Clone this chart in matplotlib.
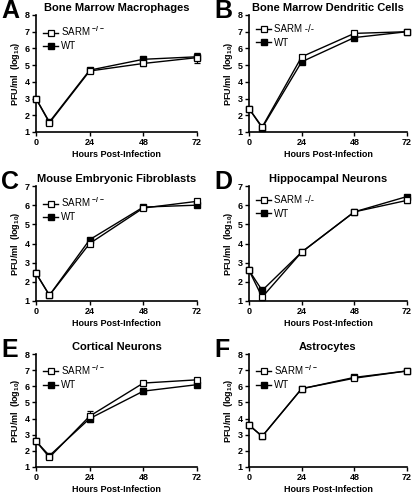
import matplotlib
matplotlib.use("Agg")
import matplotlib.pyplot as plt
from matplotlib.lines import Line2D

plt.rcParams['font.family'] = ['Liberation Sans', 'DejaVu Sans']
plt.rcParams['mathtext.fontset'] = 'custom'
plt.rcParams['mathtext.rm'] = 'Liberation Sans:bold'
plt.rcParams['mathtext.bf'] = 'Liberation Sans:bold'
plt.rcParams['mathtext.default'] = 'rm'

# ========== data ==========
hours = [0, 6, 24, 48, 72]

titles = ["Bone Marrow Macrophages", "Bone Marrow Dendritic Cells",
          "Mouse Embryonic Fibroblasts", "Hippocampal Neurons",
          "Cortical Neurons", "Astrocytes"]
letters = ["A", "B", "C", "D", "E", "F"]
sarm_labels = ["SARM $^{-/-}$", "SARM -/-", "SARM $^{-/-}$", "SARM -/-",
               "SARM $^{-/-}$", "SARM $^{-/-}$"]
ymax = [8, 8, 7, 7, 8, 8]

sarm_a = [3.0, 1.55, 4.65, 5.1, 5.45]
wt_a = [3.0, 1.6, 4.7, 5.35, 5.5]
sarm_a_err = [0, 0, 0.1, 0.15, 0.3]
wt_a_err = [0, 0, 0.1, 0.1, 0.2]

sarm_b = [2.4, 1.3, 5.5, 6.9, 7.0]
wt_b = [2.4, 1.25, 5.2, 6.65, 7.0]
sarm_b_err = [0, 0, 0.05, 0.05, 0.05]
wt_b_err = [0, 0, 0.1, 0.15, 0.05]

sarm_c = [2.45, 1.3, 4.0, 5.85, 6.2]
wt_c = [2.45, 1.3, 4.2, 5.9, 6.0]
sarm_c_err = [0, 0, 0.05, 0.05, 0.05]
wt_c_err = [0, 0, 0.05, 0.05, 0.05]

sarm_d = [2.6, 1.2, 3.55, 5.65, 6.25]
wt_d = [2.6, 1.55, 3.55, 5.65, 6.45]
sarm_d_err = [0, 0.1, 0.05, 0.05, 0.15]
wt_d_err = [0, 0.05, 0.05, 0.05, 0.1]

sarm_e = [2.6, 1.6, 4.15, 6.2, 6.4]
wt_e = [2.6, 1.7, 4.0, 5.7, 6.1]
sarm_e_err = [0, 0.1, 0.3, 0.1, 0.05]
wt_e_err = [0, 0.05, 0.2, 0.2, 0.05]

sarm_f = [3.6, 2.9, 5.85, 6.5, 6.95]
wt_f = [3.6, 2.9, 5.85, 6.55, 6.95]
sarm_f_err = [0, 0, 0.05, 0.05, 0.05]
wt_f_err = [0, 0, 0.05, 0.05, 0.05]

sarm_all = [sarm_a, sarm_b, sarm_c, sarm_d, sarm_e, sarm_f]
wt_all = [wt_a, wt_b, wt_c, wt_d, wt_e, wt_f]
sarm_err_all = [sarm_a_err, sarm_b_err, sarm_c_err, sarm_d_err, sarm_e_err, sarm_f_err]
wt_err_all = [wt_a_err, wt_b_err, wt_c_err, wt_d_err, wt_e_err, wt_f_err]

# ========== layout ==========
fig = plt.figure(figsize=(4.16, 4.95), dpi=100)
W, H = 416, 495
cols = [(36, 161), (249, 158)]
rows = [(15, 132), (186, 301), (354, 467)]

for i in range(6):
    r, c = divmod(i, 2)
    x0, w = cols[c]
    top, bot = rows[r]
    ax = fig.add_axes([x0 / W, 1 - bot / H, w / W, (bot - top) / H])

    ax.errorbar(hours, wt_all[i], yerr=wt_err_all[i], color='black', lw=1.0,
                marker='s', ms=4, mfc='black', mec='black', capsize=2,
                elinewidth=0.8, capthick=0.8, clip_on=False, zorder=3)
    ax.errorbar(hours, sarm_all[i], yerr=sarm_err_all[i], color='black', lw=1.0,
                marker='s', ms=4.5, mfc='white', mec='black', mew=0.9, capsize=2,
                elinewidth=0.8, capthick=0.8, clip_on=False, zorder=4)

    ax.set_xlim(0, 72)
    ax.set_ylim(1, ymax[i])
    ax.set_xticks([0, 24, 48, 72])
    ax.set_yticks(range(1, ymax[i] + 1))
    for s in ['top', 'right']:
        ax.spines[s].set_visible(False)
    for s in ['left', 'bottom']:
        ax.spines[s].set_linewidth(1.2)
    ax.tick_params(length=3, width=1.0, labelsize=6.5, pad=1.5)
    for lab in ax.get_xticklabels() + ax.get_yticklabels():
        lab.set_fontweight('bold')

    ax.set_xlabel("Hours Post-Infection", fontsize=6.5, fontweight='bold', labelpad=2)
    ax.set_ylabel("PFU/ml  (log$_{10}$)", fontsize=6.5, fontweight='bold', labelpad=2)
    ax.set_title(titles[i], fontsize=8, fontweight='bold', pad=3)

    handles = [Line2D([], [], color='black', lw=1.0, marker='s', ms=4.5,
                      mfc='white', mec='black', mew=0.9),
               Line2D([], [], color='black', lw=1.0, marker='s', ms=4,
                      mfc='black', mec='black')]
    ax.legend(handles, [sarm_labels[i], "WT"], loc='upper left',
              bbox_to_anchor=(0.0, 0.98), frameon=False, fontsize=7,
              handlelength=1.6, handletextpad=0.3, labelspacing=0.35,
              borderaxespad=0.3)

    fig.text((x0 - 35) / W, 1 - (top - 16) / H, letters[i], fontsize=18,
             fontweight='bold', va='top', ha='left')

fig.savefig("out.png", dpi=100)
